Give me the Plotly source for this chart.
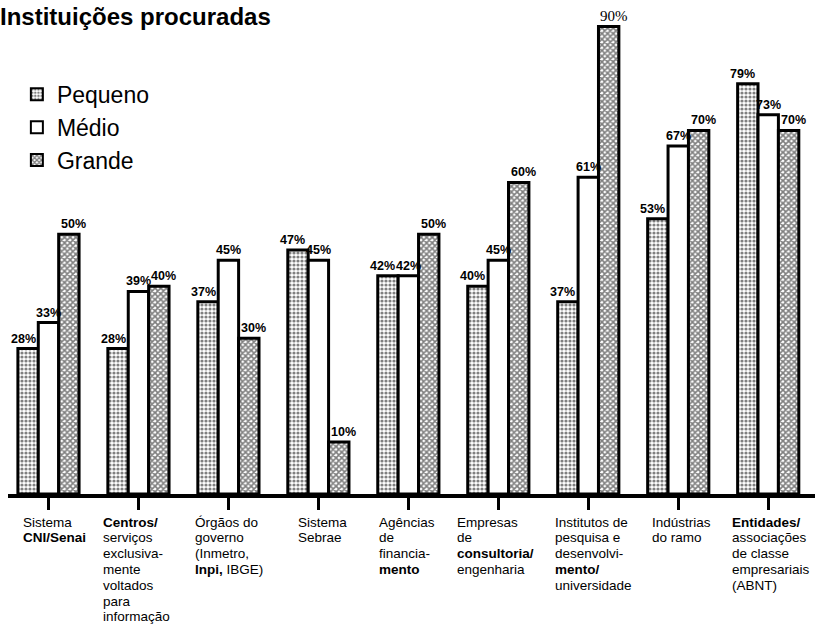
import plotly.graph_objects as go

categories = ["Sistema CNI/Senai", "Centros/serviços", "Órgãos do governo", "Sistema Sebrae",
              "Agências de financiamento", "Empresas de consultoria", "Institutos de pesquisa",
              "Indústrias do ramo", "Entidades/associações"]
pequeno = [28, 28, 37, 47, 42, 40, 37, 53, 79]
medio = [33, 39, 45, 45, 42, 45, 61, 67, 73]
grande = [50, 40, 30, 10, 50, 60, 90, 70, 70]

cat_lines = [
    ["Sistema", "<b>CNI/Senai</b>"],
    ["<b>Centros/</b>", "serviços", "exclusiva-", "mente", "voltados", "para", "informação"],
    ["Órgãos do", "governo", "(Inmetro,", "<b>Inpi,</b> IBGE)"],
    ["Sistema", "Sebrae"],
    ["Agências", "de", "financia-", "<b>mento</b>"],
    ["Empresas", "de", "<b>consultoria/</b>", "engenharia"],
    ["Institutos de", "pesquisa e", "desenvolvi-", "<b>mento/</b>", "universidade"],
    ["Indústrias", "do ramo"],
    ["<b>Entidades/</b>", "associações", "de classe", "empresariais", "(ABNT)"],
]
label_shift = [-27, -37, -35, -22, -31, -43, -35, -28, -38]

FONT = "Liberation Sans, Arial, sans-serif"
SERIF = "Liberation Serif, Times New Roman, serif"
BARGAP = 0.32

fig = go.Figure()
series = [
    ("Pequeno", pequeno, dict(shape=".", size=4, solidity=0.5, fgcolor="black", bgcolor="white")),
    ("Médio", medio, dict(shape="", fgcolor="black", bgcolor="white")),
    ("Grande", grande, dict(shape="x", size=4, solidity=0.65, fgcolor="black", bgcolor="white")),
]
for name, vals, pat in series:
    fig.add_trace(go.Bar(
        x=categories, y=vals, name=name,
        marker=dict(color="white", line=dict(color="black", width=3), pattern=pat),
        hoverinfo="x+y+name",
    ))

# value labels above each bar
nseries = len(series)
for k, (name, vals, _) in enumerate(series):
    rel = k - (nseries - 1) / 2
    for i, v in enumerate(vals):
        serif = (v == 90)
        fig.add_annotation(
            x=i + rel * (1 - BARGAP) / nseries, xref="x", y=v, yref="y",
            text=f"{v}%", showarrow=False, xanchor="center", yanchor="bottom",
            xshift=rel * 5, yshift=1,
            font=dict(family=SERIF if serif else FONT, size=15 if serif else 12.5,
                      color="black", weight=400 if serif else 700))

# category labels (multi-line, left aligned)
for i, lines in enumerate(cat_lines):
    for j, line in enumerate(lines):
        fig.add_annotation(x=categories[i], xref="x", y=0, yref="paper",
                           text=line, showarrow=False, xanchor="left", yanchor="middle",
                           xshift=label_shift[i], yshift=-28 - 15.8 * j,
                           font=dict(family=FONT, size=13.5, color="black"), align="left")

fig.update_layout(
    width=823, height=627,
    margin=dict(l=8, r=8, t=11, b=133),
    paper_bgcolor="white", plot_bgcolor="white",
    barmode="group", bargap=BARGAP, bargroupgap=0,
    title=dict(text="<b>Instituições procuradas</b>", x=0.0, xref="container", xanchor="left",
               y=0.973, yref="container", yanchor="middle",
               font=dict(family=FONT, size=24, color="black")),
    legend=dict(x=0.011, y=0.872, xanchor="left", yanchor="top", bgcolor="rgba(0,0,0,0)",
                font=dict(family=FONT, size=23, color="black"), itemsizing="constant",
                tracegroupgap=0),
    showlegend=True,
    xaxis=dict(range=[-0.45, 8.52], showline=True, linewidth=4, linecolor="black",
               ticks="outside", ticklen=12, tickwidth=3, tickcolor="black",
               showticklabels=False, showgrid=False, zeroline=False, fixedrange=True),
    yaxis=dict(range=[0, 93], visible=False, showgrid=False, zeroline=False),
)

fig.write_html("out.html", config={"displayModeBar": False},
               post_script="document.body.style.margin='0';")
